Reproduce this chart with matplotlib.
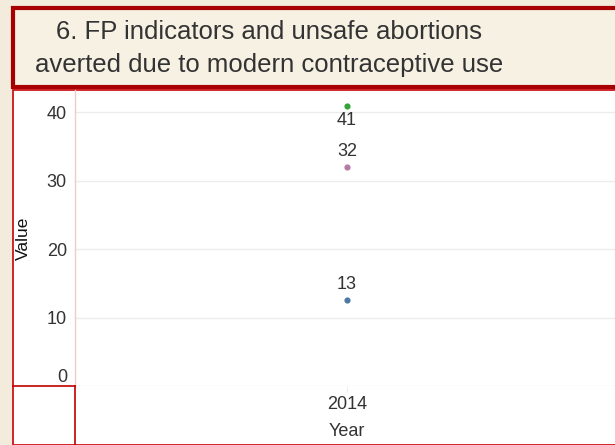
import matplotlib.pyplot as plt
from matplotlib.patches import Rectangle
from matplotlib.lines import Line2D
from matplotlib.transforms import ScaledTranslation

plt.rcParams['font.family'] = ['Liberation Sans', 'DejaVu Sans']

# data
years = ['2014']
series = ['Unsafe abortions averted', 'Indicator B', 'Indicator C']
values = [40.9, 32.0, 12.6]
colors = ['#35a33a', '#b57aa6', '#4e79a7']
label_side = ['below', 'above', 'above']

W, H = 615, 445
fig = plt.figure(figsize=(W / 100, H / 100), dpi=100, facecolor='#f3ecdc')

def px(x, y):
    return x / W, 1 - y / H

# white panel with red border
x0, y0 = px(13, 445)
fig.patches.append(Rectangle((x0, y0), 1, (445 - 90) / H, transform=fig.transFigure,
                             facecolor='white', edgecolor='#d0141b', lw=1.3, zorder=0))

# title box
x0, y0 = px(13, 87)
fig.patches.append(Rectangle((x0, y0), 1, (87 - 8) / H, transform=fig.transFigure,
                             facecolor='#f7f1e4', edgecolor='#a80000', lw=3, zorder=1))
fig.text(269 / W, 1 - 48.5 / H, '6. FP indicators and unsafe abortions\naverted due to modern contraceptive use',
         ha='center', va='center', fontsize=18.5, color='#333333', linespacing=1.52)

# header separators
fig.add_artist(Line2D([13 / W, 75 / W], [1 - 386 / H] * 2, color='#c00000', lw=1.2, zorder=6))
fig.add_artist(Line2D([75 / W, 75 / W], [0, 1 - 386 / H], color='#c00000', lw=1.2, zorder=6))

ax = fig.add_axes([75 / W, 1 - 386 / H, (619 - 75) / W, (386 - 90) / H])
ax.set_zorder(5)
ax.set_facecolor('none')
ax.set_xlim(-0.5, 0.5)
ax.set_ylim(0, (386 - 90) / 6.84)

for v, c, side in zip(values, colors, label_side):
    ax.scatter([0], [v], s=20, color=c, zorder=3, linewidths=0)
    off = -10.5 if side == 'below' else 11
    ax.annotate(f'{v:.0f}', (0, v), xytext=(0, off), textcoords='offset points',
                ha='center', va='center', fontsize=13, color='#333333')

ax.set_yticks([0, 10, 20, 30, 40])
ax.grid(axis='y', color='#ececec', lw=1)
ax.set_axisbelow(True)
ax.set_xticks([0])
ax.set_xticklabels(years)
ax.tick_params(axis='y', length=0, labelsize=13, labelcolor='#333333', pad=5.8)
ax.tick_params(axis='x', length=4, color='#eeeeee', labelsize=13, labelcolor='#333333', pad=3.5)
for s in ['top', 'right', 'bottom']:
    ax.spines[s].set_visible(False)
ax.spines['left'].set_color('#f2caca')
ax.spines['left'].set_linewidth(1)

lab0 = ax.get_yticklabels()[0]
lab0.set_transform(lab0.get_transform() + ScaledTranslation(0, 11 / 100, fig.dpi_scale_trans))

ax.set_xlabel('Year', fontsize=13, color='#333333', labelpad=7)
ax.set_ylabel('Value', fontsize=12.5, color='#111111')
ax.yaxis.set_label_coords((31 - 75) / (619 - 75), 0.5)

fig.savefig('out.png', dpi=100, facecolor=fig.get_facecolor())
